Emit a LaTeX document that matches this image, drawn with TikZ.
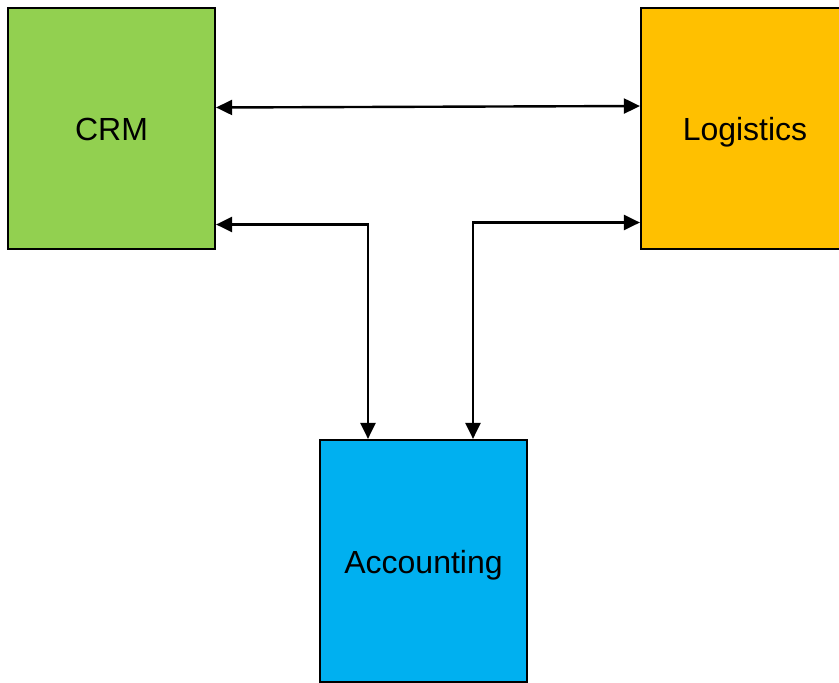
\documentclass[tikz,border=0pt]{standalone}
\usepackage{fontspec}
\setmainfont{Liberation Sans}
\usetikzlibrary{arrows.meta}
\definecolor{crmgreen}{HTML}{92D050}
\definecolor{logorange}{HTML}{FFC000}
\definecolor{accblue}{HTML}{00B0F0}
\tikzset{
  system/.style={draw=black, line width=2.2pt, minimum width=207pt, minimum height=241pt,
    inner sep=0pt, text height=24pt, text depth=0pt, font=\fontsize{32}{36}\selectfont},
  link/.style={line width=2.4pt,
    {Triangle[length=16pt,width=15pt]}-{Triangle[length=16pt,width=15pt]}}
}
\begin{document}
\begin{tikzpicture}[x=1pt,y=-1pt]
  \useasboundingbox (0,0) rectangle (839,683);
  \clip (0,0) rectangle (839,683);
  \fill[white] (0,0) rectangle (839,683);

  \node[system, fill=crmgreen] (crm) at (111.5,128.5) {CRM};
  \node[system, fill=logorange, minimum width=208pt] (log) at (745,128.5) {Logistics};
  \node[system, fill=accblue, minimum height=242pt] (acc) at (423.5,561) {Accounting};

  % CRM <-> Logistics
  \draw[link] ([yshift=21pt]crm.east) -- ([yshift=22.5pt]log.west);
  % CRM <-> Accounting
  \draw[link] ([yshift=-96pt]crm.east) -| ([xshift=-55.5pt]acc.north);
  % Logistics <-> Accounting
  \draw[link] ([yshift=-94pt]log.west) -| ([xshift=49.5pt]acc.north);
\end{tikzpicture}
\end{document}
